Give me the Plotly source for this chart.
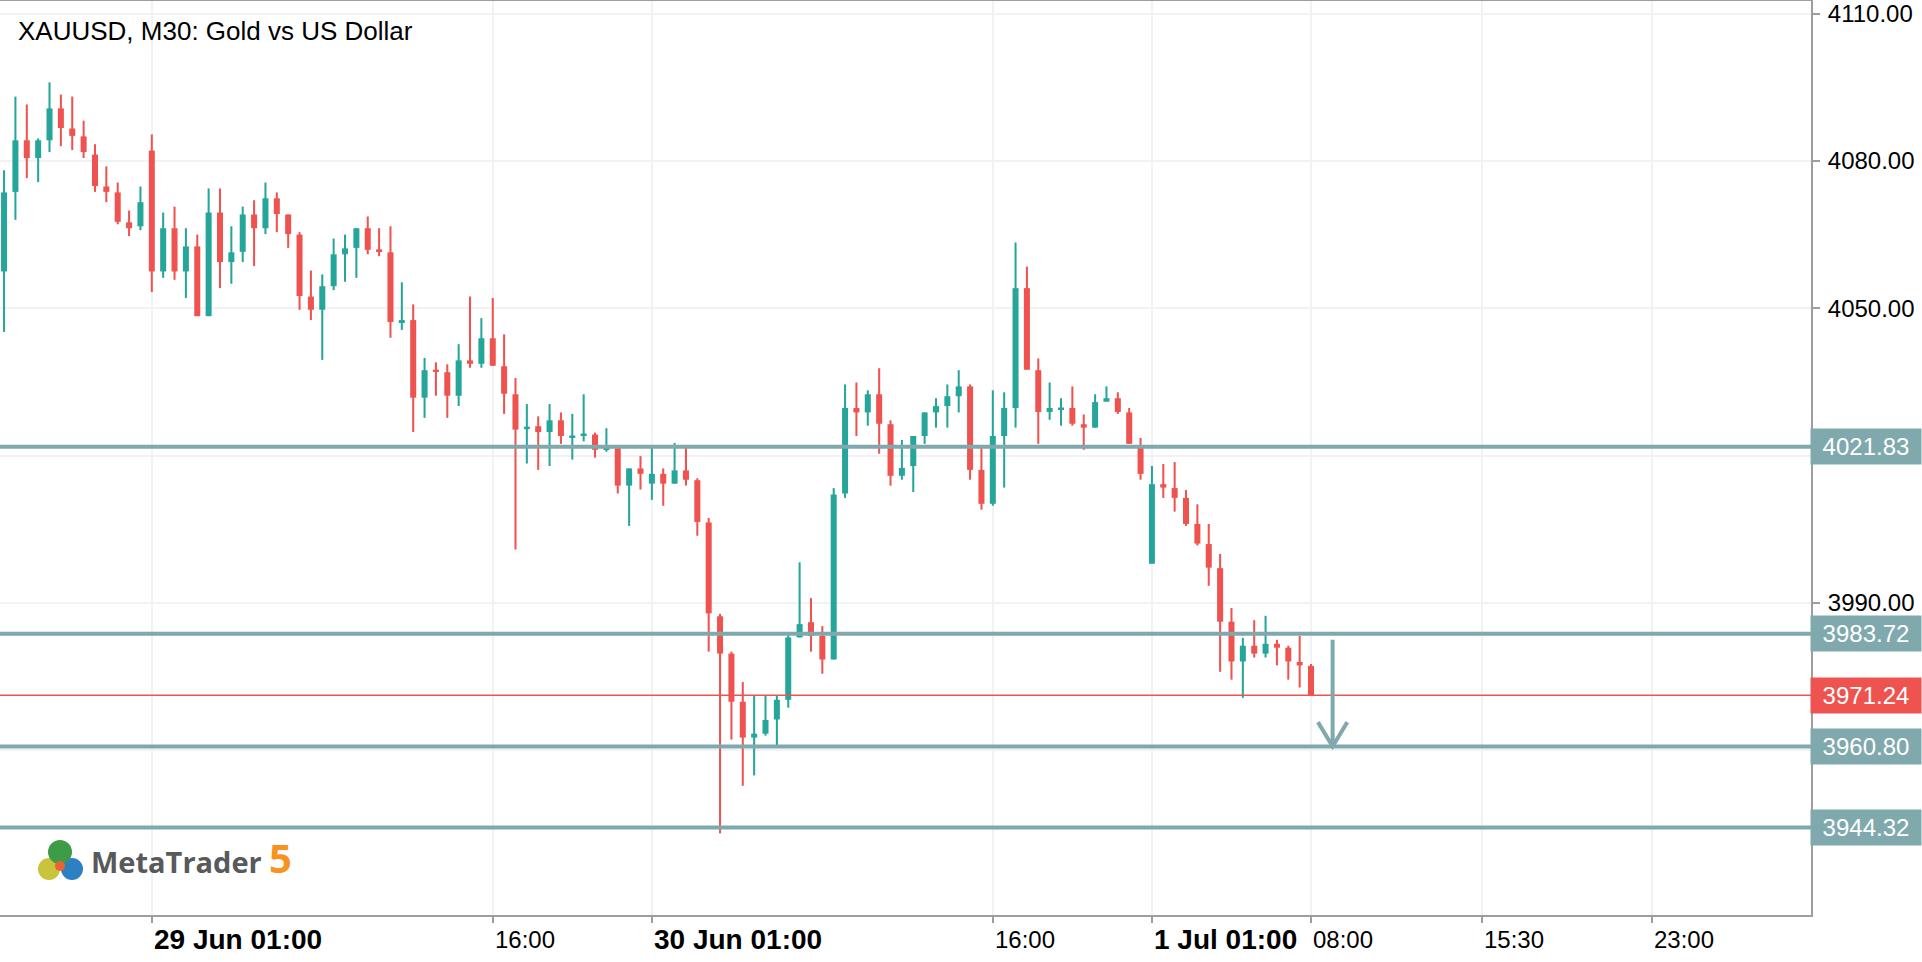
import numpy as np
import plotly.graph_objects as go

# ---------------- data ----------------
title_text = "XAUUSD, M30: Gold vs US Dollar"

opens = [4057.5, 4073.7, 4084.2, 4080.6, 4084.2, 4090.7, 4086.6, 4085.0, 4081.3, 4074.8,
         4073.6, 4067.5, 4066.7, 4082.1, 4057.5, 4066.3, 4057.5, 4062.6, 4048.4, 4069.5,
         4059.4, 4061.5, 4069.1, 4066.3, 4072.4, 4069.1, 4065.0, 4052.4, 4049.7, 4054.5,
         4061.0, 4062.3, 4066.3, 4061.9, 4061.4, 4047.2, 4047.6, 4031.8, 4037.4, 4037.0,
         4032.2, 4039.4, 4038.7, 4043.9, 4038.2, 4032.5, 4025.4, 4026.0, 4024.8, 4027.2,
         4023.7, 4024.1, 4024.3, 4021.2, 4021.5, 4013.9, 4017.4, 4014.3, 4016.3, 4014.3,
         4017.0, 4015.0, 4006.4, 3987.3, 3979.7, 3969.9, 3962.6, 3963.4, 3966.3, 3970.3,
         3983.0, 3986.1, 3983.3, 3978.5, 4012.3, 4029.7, 4028.8, 4032.5, 4026.4, 4015.9,
         4017.9, 4024.0, 4028.8, 4030.1, 4032.1, 4034.1, 4017.1, 4010.2, 4024.0, 4029.7,
         4054.1, 4037.4, 4028.9, 4029.4, 4029.7, 4026.4, 4025.7, 4031.0, 4031.7, 4028.8,
         4021.6, 3998.0, 4014.2, 4013.4, 4011.4, 4006.1, 4002.0, 3997.1, 3986.2, 3978.1,
         3981.3, 3979.7, 3981.7, 3980.9, 3978.0, 3977.2]
highs = [4078.1, 4093.1, 4091.5, 4084.6, 4096.0, 4093.5, 4093.1, 4088.2, 4083.4, 4078.9,
         4075.6, 4069.9, 4074.8, 4085.4, 4069.5, 4070.7, 4066.3, 4065.0, 4074.4, 4074.4,
         4066.7, 4070.7, 4072.0, 4075.6, 4073.6, 4069.1, 4065.5, 4057.7, 4056.9, 4064.2,
         4065.0, 4066.3, 4068.7, 4066.3, 4066.7, 4055.3, 4050.8, 4039.9, 4039.0, 4038.6,
         4042.7, 4052.4, 4048.0, 4052.1, 4044.7, 4035.8, 4030.5, 4028.0, 4030.5, 4028.8,
         4028.5, 4032.5, 4024.7, 4025.6, 4021.6, 4017.4, 4019.9, 4021.6, 4017.4, 4022.6,
         4021.6, 4015.4, 4007.3, 3987.8, 3980.1, 3973.9, 3971.2, 3971.2, 3971.2, 3983.8,
         3998.3, 3991.0, 3985.3, 4013.4, 4034.5, 4034.9, 4033.3, 4037.8, 4027.2, 4023.2,
         4024.0, 4028.8, 4031.7, 4034.5, 4037.4, 4034.5, 4021.6, 4033.3, 4032.9, 4063.4,
         4058.5, 4039.8, 4034.9, 4031.7, 4034.1, 4028.4, 4032.5, 4034.1, 4032.9, 4029.7,
         4023.6, 4017.9, 4018.3, 4018.7, 4013.0, 4010.1, 4006.1, 4000.0, 3989.0, 3982.9,
         3986.5, 3987.4, 3982.5, 3981.3, 3983.3, 3977.6]
lows = [4045.2, 4068.0, 4076.5, 4075.7, 4081.8, 4083.0, 4082.2, 4080.6, 4073.7, 4071.6,
        4067.1, 4064.7, 4065.9, 4053.3, 4056.2, 4055.8, 4052.1, 4048.4, 4048.4, 4054.1,
        4055.0, 4059.4, 4058.6, 4065.1, 4065.5, 4062.3, 4049.7, 4047.6, 4039.5, 4053.7,
        4055.4, 4056.2, 4061.0, 4060.6, 4044.0, 4045.6, 4024.8, 4027.7, 4032.2, 4027.7,
        4030.1, 4037.9, 4037.9, 4038.3, 4028.5, 4000.9, 4018.4, 4017.1, 4017.9, 4022.4,
        4019.2, 4022.9, 4019.6, 4020.8, 4012.3, 4005.7, 4013.1, 4011.0, 4009.8, 4014.3,
        4013.9, 4003.7, 3980.1, 3943.1, 3962.2, 3952.8, 3954.9, 3963.0, 3960.7, 3968.7,
        3983.0, 3980.1, 3975.6, 3978.5, 4011.4, 4024.0, 4026.1, 4020.4, 4013.9, 4015.1,
        4012.6, 4022.4, 4025.7, 4025.7, 4028.8, 4015.1, 4009.0, 4009.8, 4013.5, 4025.7,
        4037.5, 4022.4, 4027.3, 4026.1, 4026.1, 4021.2, 4025.7, 4031.0, 4028.5, 4022.4,
        4015.1, 3998.0, 4011.4, 4008.6, 4005.7, 4001.7, 3993.5, 3976.0, 3974.4, 3970.7,
        3978.9, 3978.9, 3977.3, 3974.4, 3972.8, 3971.24]
closes = [4073.6, 4084.2, 4080.6, 4084.2, 4090.7, 4086.7, 4085.1, 4081.8, 4074.9, 4073.7,
          4067.6, 4066.3, 4071.6, 4057.5, 4066.3, 4057.5, 4062.6, 4048.4, 4069.5, 4059.4,
          4061.4, 4069.1, 4066.3, 4072.4, 4069.2, 4065.1, 4052.5, 4049.7, 4054.5, 4061.0,
          4062.2, 4066.3, 4061.9, 4061.6, 4047.2, 4047.5, 4031.8, 4037.4, 4037.1, 4032.2,
          4039.4, 4038.7, 4043.9, 4038.3, 4032.6, 4025.3, 4025.9, 4024.8, 4027.2, 4024.0,
          4023.9, 4024.4, 4021.2, 4021.5, 4013.9, 4017.4, 4016.3, 4016.3, 4014.3, 4017.0,
          4015.1, 4006.5, 3987.9, 3979.7, 3969.9, 3962.6, 3963.4, 3966.2, 3970.3, 3983.0,
          3985.7, 3983.3, 3978.5, 4012.1, 4029.7, 4028.8, 4032.5, 4026.5, 4015.9, 4017.5,
          4024.0, 4028.8, 4030.1, 4032.1, 4034.1, 4017.1, 4010.2, 4024.0, 4029.7, 4054.1,
          4037.5, 4028.9, 4029.7, 4029.6, 4026.5, 4025.7, 4030.9, 4031.7, 4028.9, 4022.4,
          4016.3, 4014.2, 4013.5, 4011.4, 4006.1, 4002.1, 3997.2, 3986.2, 3978.1, 3981.3,
          3979.7, 3981.7, 3980.9, 3978.1, 3977.3, 3971.24]

first_bar = -13   # index of first visible bar, relative to the "29 Jun 01:00" bar

x_tick_pos = [0, 30, 44, 74, 88, 102, 117, 132]
x_tick_text = ["29 Jun 01:00", "16:00", "30 Jun 01:00", "16:00", "1 Jul 01:00", "08:00", "15:30", "23:00"]
x_tick_bold = [True, False, True, False, True, False, False, False]

y_tick_vals = [4110, 4080, 4050, 4020, 3990, 3960]
y_tick_text = ["4110.00", "4080.00", "4050.00", "", "3990.00", ""]

levels = [4021.83, 3983.72, 3960.80, 3944.32]
current_price = 3971.24

arrow_bar = 103.9
arrow_from = 3982.5
arrow_to = 3960.80

# ---------------- style ----------------
W, H = 1922, 962
ML, MR, MT, MB = 0, 111, 1, 47
PW, PH = W - ML - MR, H - MT - MB
BAR_PX = 11.365
PX_PER_UNIT = 4.912
X0_PX = 151.8            # pixel of bar 0
Y4050_PX = 308.3          # pixel of price 4050

UP, DOWN = "#26A69A", "#EF5350"
LEVEL_C = "#80A9AE"
AXIS_C = "#9E9E9E"
GRID_C = "#F2F2F5"
FONT = "Liberation Sans"

xmin = -X0_PX / BAR_PX
xmax = xmin + PW / BAR_PX
ytop = 4050 + (Y4050_PX - MT) / PX_PER_UNIT
ybot = ytop - PH / PX_PER_UNIT

O = np.array(opens); Hh = np.array(highs); L = np.array(lows); C = np.array(closes)
xk = np.arange(len(O)) + first_bar
cols = [UP if c >= o else DOWN for o, c in zip(O, C)]


def pxx(px):
    return (px - ML) / PW


def pxy(py):
    return 1 - (py - MT) / PH


fig = go.Figure()
fig.add_trace(go.Bar(x=xk, y=Hh - L, base=L, width=0.18, opacity=1,
                     marker=dict(color=cols, line=dict(width=0)),
                     hoverinfo="skip", showlegend=False))
fig.add_trace(go.Bar(x=xk, y=np.maximum(np.abs(C - O), 0.4), base=np.minimum(O, C),
                     width=0.53, opacity=1,
                     marker=dict(color=cols, line=dict(width=0)),
                     hoverinfo="skip", showlegend=False))

shapes = []
for lv in levels:
    shapes.append(dict(type="line", xref="paper", yref="y", x0=0, x1=1, y0=lv, y1=lv,
                       line=dict(color=LEVEL_C, width=4), layer="above"))
shapes.append(dict(type="line", xref="paper", yref="y", x0=0, x1=1,
                   y0=current_price, y1=current_price,
                   line=dict(color=DOWN, width=1.5), layer="above"))
# arrow (drawn object)
dx, dy = 1.29, 4.95
shapes.append(dict(type="path", xref="x", yref="y",
                   path=(f"M {arrow_bar},{arrow_from} L {arrow_bar},{arrow_to} "
                         f"M {arrow_bar - dx},{arrow_to + dy} L {arrow_bar},{arrow_to} "
                         f"L {arrow_bar + dx},{arrow_to + dy}"),
                   line=dict(color=LEVEL_C, width=4), layer="above"))


def circle(cx, cy, r, color):
    return dict(type="circle", xref="paper", yref="paper",
                x0=pxx(cx - r), x1=pxx(cx + r), y0=pxy(cy + r), y1=pxy(cy - r),
                fillcolor=color, line=dict(width=0), layer="above")


# MetaTrader logo icon (simplified)
shapes += [
    circle(49, 869, 11, "#C8C43C"),
    circle(72, 869, 11, "#2D80C2"),
    circle(60, 852, 12, "#3E9B48"),
    circle(60, 866, 5, "#E9652C"),
]

annotations = []
annotations.append(dict(text=title_text, xref="paper", yref="paper", x=pxx(16), y=pxy(31),
                        xanchor="left", yanchor="middle", showarrow=False,
                        font=dict(family=FONT, size=26, color="#000000")))
for pos, txt, bold in zip(x_tick_pos, x_tick_text, x_tick_bold):
    annotations.append(dict(text=f"<b>{txt}</b>" if bold else txt, xref="x", yref="paper",
                            x=pos, y=pxy(939), xanchor="left", yanchor="middle",
                            showarrow=False,
                            font=dict(family=FONT, size=28 if bold else 24, color="#000000")))
for lv in levels:
    annotations.append(dict(text=f"{lv:.2f}", xref="paper", yref="y", x=1, y=lv,
                            xanchor="left", yanchor="middle", xshift=-1, showarrow=False,
                            width=110, height=35, bgcolor=LEVEL_C, borderpad=0,
                            font=dict(family=FONT, size=24, color="#FFFFFF")))
annotations.append(dict(text=f"{current_price:.2f}", xref="paper", yref="y", x=1,
                        y=current_price, xanchor="left", yanchor="middle", xshift=-1,
                        showarrow=False, width=110, height=35, bgcolor=DOWN, borderpad=0,
                        font=dict(family=FONT, size=24, color="#FFFFFF")))
annotations.append(dict(text="<b>MetaTrader</b>", xref="paper", yref="paper", x=pxx(89),
                        y=pxy(861), xanchor="left", yanchor="middle", showarrow=False,
                        font=dict(family="Open Sans", size=29, color="#58595B")))
annotations.append(dict(text="<b>5</b>", xref="paper", yref="paper", x=pxx(267),
                        y=pxy(857), xanchor="left", yanchor="middle", showarrow=False,
                        font=dict(family="Open Sans", size=40, color="#F7931E")))

fig.update_layout(
    width=W, height=H, margin=dict(l=ML, r=MR, t=MT, b=MB, pad=0),
    paper_bgcolor="white", plot_bgcolor="white",
    barmode="overlay", showlegend=False,
    shapes=shapes, annotations=annotations,
    xaxis=dict(range=[xmin, xmax], tickmode="array", tickvals=x_tick_pos,
               showticklabels=False, ticks="outside", ticklen=6, tickwidth=2,
               tickcolor=AXIS_C, showgrid=True, gridcolor=GRID_C, gridwidth=2,
               showline=True, linecolor=AXIS_C, linewidth=2, mirror=True,
               zeroline=False, fixedrange=True, automargin=False),
    yaxis=dict(range=[ybot, ytop], side="right", tickmode="array",
               tickvals=y_tick_vals, ticktext=y_tick_text, ticks="outside",
               ticklen=7, tickwidth=1.5, tickcolor=AXIS_C, showgrid=True,
               gridcolor=GRID_C, gridwidth=2, showline=True, linecolor=AXIS_C,
               linewidth=2, zeroline=False, fixedrange=True, automargin=False,
               ticklabelstandoff=3, ticklabeloverflow="allow",
               tickfont=dict(family=FONT, size=24, color="#000000")),
)

fig.write_html("out.html", config={"displayModeBar": False})
